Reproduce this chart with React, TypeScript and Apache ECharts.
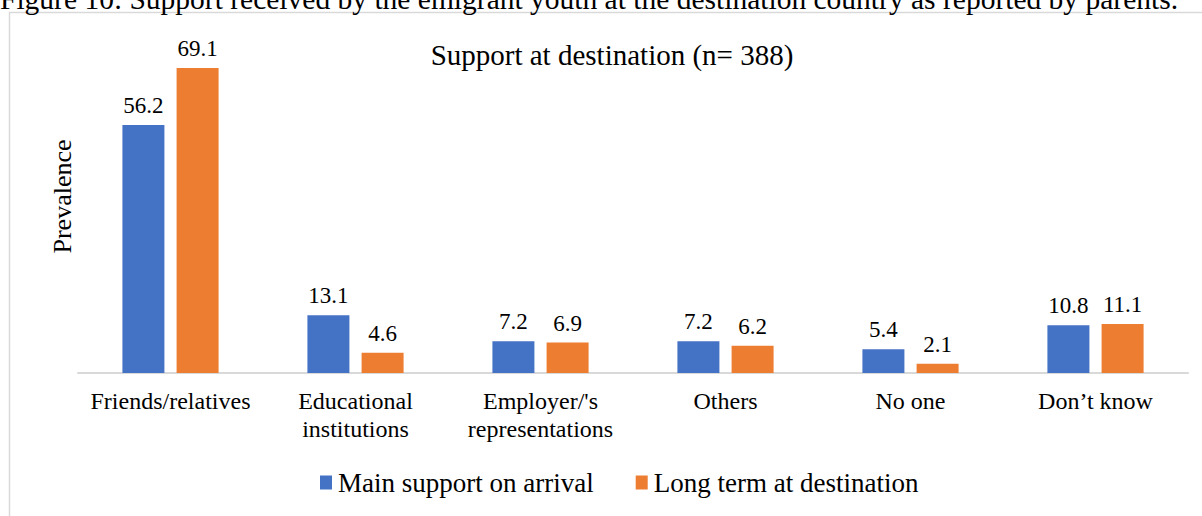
import React, { useEffect, useRef } from "react";
import * as echarts from "echarts";

const categories = [
  "Friends/relatives",
  "Educational\ninstitutions",
  "Employer/'s\nrepresentations",
  "Others",
  "No one",
  "Don\u2019t know",
];
const mainSupport = [56.2, 13.1, 7.2, 7.2, 5.4, 10.8];
const longTerm = [69.1, 4.6, 6.9, 6.2, 2.1, 11.1];
const seriesNames = ["Main support on arrival", "Long term at destination"];

const FONT = "Liberation Serif";

export default function App() {
  const ref = useRef<HTMLDivElement>(null);
  useEffect(() => {
    document.body.style.margin = "0";
    const chart = echarts.init(ref.current!, null, { renderer: "svg" });
    chart.setOption({
      animation: false,
      textStyle: { fontFamily: FONT, color: "#000" },
      title: {
        text: "Support at destination (n= 388)",
        left: 607,
        top: 35,
        textAlign: "center",
        textStyle: { fontFamily: FONT, fontSize: 29, fontWeight: "normal", color: "#000" },
      },
      graphic: [
        {
          type: "text",
          left: 0,
          top: -16,
          style: {
            text: "Figure 10: Support received by the emigrant youth at the destination country as reported by parents.",
            fontFamily: FONT,
            fontSize: 29.5,
            fill: "#000",
          },
        },
        {
          type: "rect",
          shape: { x: 9.5, y: 12.5, width: 1220, height: 520 },
          style: { fill: "none", stroke: "#d9d9d9", lineWidth: 1.5 },
          z: -1,
        },
      ],
      legend: {
        data: seriesNames,
        left: 315,
        top: 464,
        itemWidth: 12,
        itemHeight: 14,
        itemGap: 42,
        icon: "rect",
        textStyle: { fontFamily: FONT, fontSize: 27, color: "#000", padding: [0, 0, 0, 1] },
      },
      grid: { left: 78, right: 14, top: 20, bottom: 143, containLabel: false },
      xAxis: {
        type: "category",
        data: categories,
        axisLine: { lineStyle: { color: "#d9d9d9", width: 2 } },
        axisTick: { show: false },
        axisLabel: {
          fontFamily: FONT,
          fontSize: 24,
          color: "#000",
          margin: 14,
          lineHeight: 28,
          interval: 0,
        },
      },
      yAxis: {
        type: "value",
        min: 0,
        max: 80,
        show: true,
        name: "Prevalence",
        nameLocation: "middle",
        nameGap: 3,
        nameRotate: 90,
        nameTextStyle: { fontFamily: FONT, fontSize: 26, color: "#000" },
        axisLine: { show: false },
        axisTick: { show: false },
        axisLabel: { show: false },
        splitLine: { show: false },
      },
      series: [
        {
          name: seriesNames[0],
          type: "bar",
          data: mainSupport,
          barWidth: 42,
          barGap: "29%",
          itemStyle: { color: "#4472c4" },
          label: {
            show: true,
            position: "top",
            distance: 8,
            fontFamily: FONT,
            fontSize: 23,
            color: "#000",
          },
        },
        {
          name: seriesNames[1],
          type: "bar",
          data: longTerm,
          barWidth: 42,
          itemStyle: { color: "#ed7d31" },
          label: {
            show: true,
            position: "top",
            distance: 8,
            fontFamily: FONT,
            fontSize: 23,
            color: "#000",
          },
        },
      ],
    });
    return () => chart.dispose();
  }, []);
  return <div ref={ref} style={{ width: 1202, height: 516 }} />;
}
